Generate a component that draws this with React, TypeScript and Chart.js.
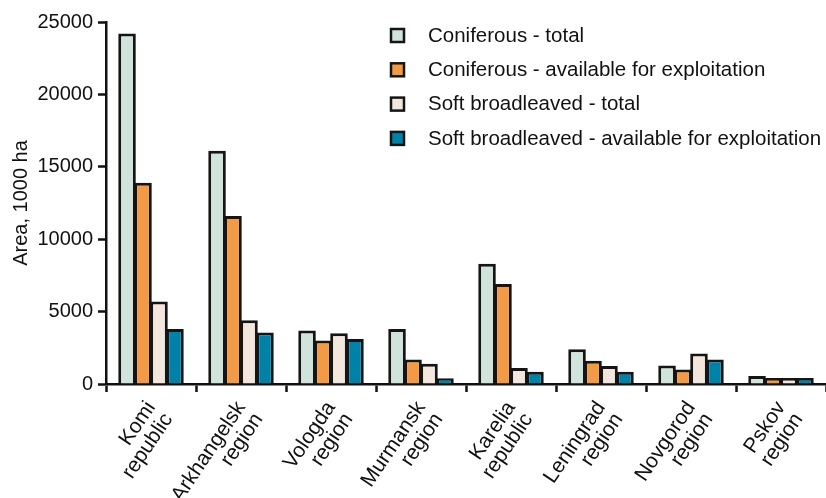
import React, { useEffect, useRef } from "react";
import { Chart, registerables } from "chart.js";

Chart.register(...registerables);

const categories: string[][] = [
  ["Komi", "republic"],
  ["Arkhangelsk", "region"],
  ["Vologda", "region"],
  ["Murmansk", "region"],
  ["Karelia", "republic"],
  ["Leningrad", "region"],
  ["Novgorod", "region"],
  ["Pskov", "region"],
];

const seriesNames = [
  "Coniferous - total",
  "Coniferous - available for exploitation",
  "Soft broadleaved - total",
  "Soft broadleaved - available for exploitation",
];

const coniferousTotal = [24200, 16100, 3700, 3800, 8300, 2400, 1270, 550];
const coniferousAvailable = [13900, 11600, 3000, 1700, 6900, 1600, 1000, 420];
const softTotal = [5700, 4400, 3500, 1400, 1100, 1250, 2100, 420];
const softAvailable = [3800, 3550, 3100, 400, 850, 850, 1700, 420];

const yTicks = [0, 5000, 10000, 15000, 20000, 25000];

const colors = ["#d0e4dc", "#f29a45", "#f3e6dc", "#0082a8"];
const FONT = "'Liberation Sans', Arial, Helvetica, sans-serif";

const legendPlugin = {
  id: "customLegend",
  afterDraw(chart: any) {
    const { ctx, chartArea } = chart;
    const x0 = chartArea.left + 285;
    const y0 = chartArea.top + 14;
    const step = 34.3;
    ctx.save();
    chart.data.datasets.forEach((ds: any, i: number) => {
      const cy = y0 + i * step;
      ctx.fillStyle = ds.backgroundColor;
      ctx.strokeStyle = "#151515";
      ctx.lineWidth = 2.5;
      ctx.fillRect(x0, cy - 7, 13, 13);
      ctx.strokeRect(x0, cy - 7, 13, 13);
      ctx.fillStyle = "#111";
      ctx.font = `20.5px ${FONT}`;
      ctx.textBaseline = "middle";
      ctx.textAlign = "left";
      ctx.fillText(ds.label, x0 + 37, cy);
    });
    ctx.restore();
  },
};

export default function App() {
  const ref = useRef<HTMLCanvasElement | null>(null);
  useEffect(() => {
    document.body.style.margin = "0";
    const values = [coniferousTotal, coniferousAvailable, softTotal, softAvailable];
    const chart = new Chart(ref.current as HTMLCanvasElement, {
      type: "bar",
      data: {
        labels: categories,
        datasets: values.map((v, i) => ({
          label: seriesNames[i],
          data: v,
          backgroundColor: colors[i],
          borderColor: "#151515",
          borderWidth: 3,
          borderSkipped: "bottom",
          categoryPercentage: 0.71,
          barPercentage: 1.1,
        })),
      },
      options: {
        animation: false,
        responsive: false,
        maintainAspectRatio: false,
        layout: { padding: { top: 22, right: 0, left: 0, bottom: 0 } },
        plugins: {
          legend: { display: false },
          tooltip: { enabled: false },
        },
        scales: {
          x: {
            offset: true,
            grid: {
              offset: true,
              drawOnChartArea: false,
              drawTicks: true,
              tickLength: 8,
              tickColor: "#111",
              tickWidth: 2.5,
            },
            border: { display: true, color: "#111", width: 2.5 },
            ticks: {
              color: "#111",
              font: { family: FONT, size: 21, lineHeight: 1.0 },
              minRotation: 56,
              maxRotation: 56,
              autoSkip: false,
              padding: 6,
            },
            afterFit(scale: any) {
              scale.height = 114;
            },
          },
          y: {
            min: 0,
            max: 25000,
            afterBuildTicks(scale: any) {
              scale.ticks = yTicks.map((v) => ({ value: v }));
            },
            grid: {
              drawOnChartArea: false,
              drawTicks: true,
              tickLength: 8,
              tickColor: "#111",
              tickWidth: 2.5,
            },
            border: { display: true, color: "#111", width: 2.5 },
            ticks: {
              color: "#111",
              font: { family: FONT, size: 20 },
              padding: 5,
              callback: (v: any) => String(v),
            },
            title: {
              display: true,
              text: "Area, 1000 ha",
              color: "#111",
              font: { family: FONT, size: 20 },
              padding: { top: 9, bottom: 4 },
            },
            afterFit(scale: any) {
              scale.width = 106;
            },
          },
        },
      },
      plugins: [legendPlugin],
    });
    return () => chart.destroy();
  }, []);
  return (
    <div style={{ width: 826, height: 498 }}>
      <canvas ref={ref} width={826} height={498} style={{ width: 826, height: 498, display: "block" }} />
    </div>
  );
}
